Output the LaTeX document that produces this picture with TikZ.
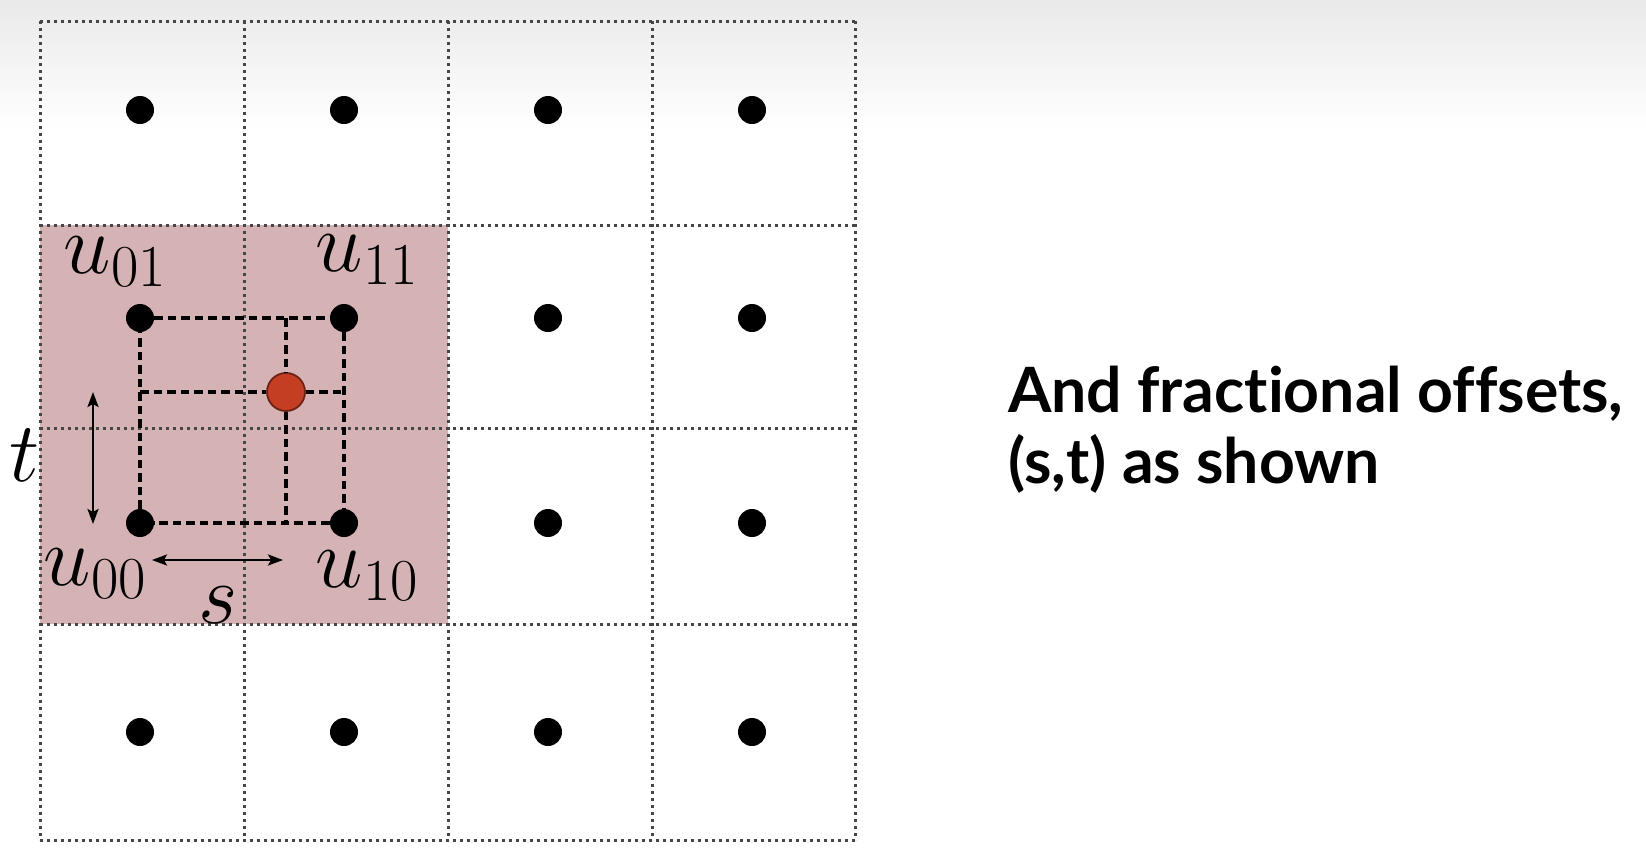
\RequirePackage{fix-cm}
\documentclass[tikz,border=0pt]{standalone}
\usepackage{fontspec}
\newfontfamily\rfont[Ligatures=NoCommon]{Lato}
\usetikzlibrary{arrows.meta}
\definecolor{pinkbg}{RGB}{213,178,180}
\definecolor{reddot}{RGB}{196,62,36}
\definecolor{redline}{RGB}{110,34,22}
\definecolor{gridgray}{RGB}{70,70,70}
\begin{document}
\begin{tikzpicture}[x=1pt,y=-1pt,
  gridline/.style={gridgray, line width=3pt, dash pattern=on 2.8pt off 4.2pt},
  sample/.style={circle, fill=black, inner sep=0pt, minimum size=28pt},
  probe/.style={circle, fill=reddot, draw=redline, line width=1.8pt, inner sep=0pt, minimum size=38pt},
  guide/.style={black, line width=3.2pt, dash pattern=on 8.5pt off 5pt},
  span/.style={black, line width=2.4pt, {Stealth[length=15pt,width=11pt,inset=3pt]}-{Stealth[length=15pt,width=11pt,inset=3pt]}},
  lbl/.style={inner sep=0pt, font=\fontsize{85}{100}\selectfont},
  caption/.style={anchor=base west, inner sep=0pt, font=\rfont\bfseries\fontsize{62.5}{75}\selectfont}]
\useasboundingbox (0,0) rectangle (1646,852);
\shade[top color=gray!17, bottom color=white] (0,0) rectangle (1646,130);
\fill[pinkbg] (40,225) rectangle (448,624);
\foreach \x in {40,244,448,652,855} \draw[gridline] (\x,21) -- (\x,840);
\foreach \y in {21,225,428,624,840} \draw[gridline] (40,\y) -- (855,\y);
\foreach \x [count=\i] in {140,344,548,752}
  \foreach \y [count=\j] in {110,318,523,732}
    \node[sample] (d\i\j) at (\x,\y) {};
\node[probe] (p) at (286,392) {};
\draw[guide] (d12) -- (d22);
\draw[guide] (d22) -- (d23);
\draw[guide] (d23) -- (d13);
\draw[guide] (d13) -- (d12);
\draw[guide] (p |- d12) -- (p);
\draw[guide] (p) -- (p |- d13);
\draw[guide] (p -| d12) -- (p);
\draw[guide] (p) -- (p -| d22);
\coordinate (ta) at (93,392);
\coordinate (tb) at (93,524);
\coordinate (sa) at (152,560);
\coordinate (sb) at (283,560);
\draw[span] (ta) -- (tb);
\draw[span] (sa) -- (sb);
\node[lbl] (l01) at (115,262) {$u_{01}$};
\node[lbl] (l11) at (367,260) {$u_{11}$};
\node[lbl] (l00) at (95,574) {$u_{00}$};
\node[lbl] (l10) at (367,576) {$u_{10}$};
\node[lbl] (lt) at (25,455) {$t$};
\node[lbl] (ls) at (218,605) {$s$};
\node[caption] (c1) at (1008,412) {And fractional offsets,};
\node[caption] (c2) at (1008,483) {(s,t) as shown};
\end{tikzpicture}
\end{document}
